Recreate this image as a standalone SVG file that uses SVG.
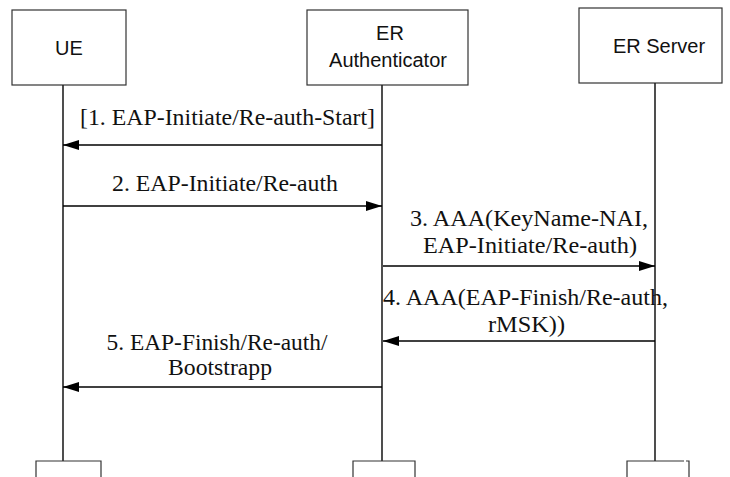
<svg xmlns="http://www.w3.org/2000/svg" width="730" height="477" viewBox="0 0 730 477">
<defs>
<marker id="ah" viewBox="0 0 16 10" refX="16" refY="5" markerWidth="16" markerHeight="10" markerUnits="userSpaceOnUse" orient="auto">
<path d="M0,0 L16,5 L0,10 Z" fill="#000"/>
</marker>
</defs>
<style>
.box{fill:#fff;stroke:#333;stroke-width:1.2}
.life{stroke:#222;stroke-width:1.6;fill:none}
.msg{stroke:#000;stroke-width:1.5;fill:none;marker-end:url(#ah)}
.nt{font-family:"Liberation Sans",Arial,sans-serif;font-size:20px;fill:#111;text-anchor:middle}
.lt{font-family:"Liberation Serif","Times New Roman",serif;font-size:24px;fill:#111;text-anchor:middle}
</style>
<rect width="730" height="477" fill="#fff"/>
<g id="ue">
<rect class="box" x="12" y="10" width="114" height="75"/>
<text class="nt" x="69" y="55">UE</text>
<line class="life" x1="63" y1="85" x2="63" y2="461"/>
<path class="box" d="M36,478 V461 H101 V478"/>
</g>
<g id="authenticator">
<rect class="box" x="307" y="10" width="161" height="75"/>
<text class="nt" x="390" y="40">ER</text>
<text class="nt" x="388" y="67">Authenticator</text>
<line class="life" x1="382" y1="85" x2="382" y2="461"/>
<path class="box" d="M353,478 V461 H415 V478"/>
</g>
<g id="server">
<rect class="box" x="579" y="8" width="143" height="75"/>
<text class="nt" x="659" y="53">ER Server</text>
<line class="life" x1="655" y1="83" x2="655" y2="461"/>
<path class="box" d="M627,478 V461 H684 M686,461 H689 V478"/>
</g>
<g id="connectors">
<line class="msg" x1="382" y1="145" x2="63" y2="145"/>
<line class="msg" x1="63" y1="206" x2="382" y2="206"/>
<line class="msg" x1="383" y1="266" x2="655" y2="266"/>
<line class="msg" x1="655" y1="341" x2="383" y2="341"/>
<line class="msg" x1="382" y1="387" x2="63" y2="387"/>
<text class="lt" x="227.5" y="125" textLength="295" lengthAdjust="spacingAndGlyphs">[1. EAP-Initiate/Re-auth-Start]</text>
<text class="lt" x="225" y="191" textLength="226" lengthAdjust="spacingAndGlyphs">2. EAP-Initiate/Re-auth</text>
<text class="lt" x="529" y="226" textLength="238" lengthAdjust="spacingAndGlyphs">3. AAA(KeyName-NAI,</text>
<text class="lt" x="530" y="253" textLength="214" lengthAdjust="spacingAndGlyphs">EAP-Initiate/Re-auth)</text>
<text class="lt" x="525.5" y="305" textLength="285" lengthAdjust="spacingAndGlyphs">4. AAA(EAP-Finish/Re-auth,</text>
<text class="lt" x="526.5" y="332" textLength="77" lengthAdjust="spacingAndGlyphs">rMSK))</text>
<text class="lt" x="217" y="350" textLength="221" lengthAdjust="spacingAndGlyphs">5. EAP-Finish/Re-auth/</text>
<text class="lt" x="220" y="375" textLength="104" lengthAdjust="spacingAndGlyphs">Bootstrapp</text>
</g>
</svg>
